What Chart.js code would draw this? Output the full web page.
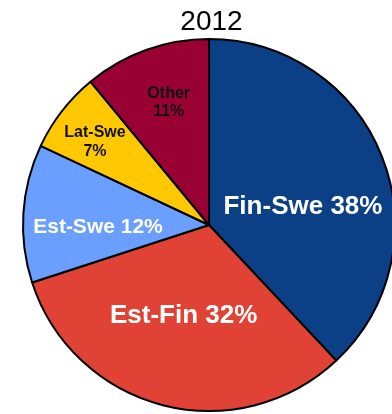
<!DOCTYPE html>
<html>
<head>
<meta charset="utf-8">
<title>2012</title>
<script src="https://cdn.jsdelivr.net/npm/chart.js@4"></script>
<style>
  html, body { margin: 0; padding: 0; background: #ffffff; overflow: hidden; }
  #wrap { width: 392px; height: 414px; overflow: hidden; position: relative; }
  canvas { display: block; }
</style>
</head>
<body>
<div id="wrap"><canvas id="chart" width="420" height="414"></canvas></div>
<script>
// Route shares for 2012 (percent), clockwise from 12 o'clock
const chartTitle = '2012';
const routes = ['Fin-Swe', 'Est-Fin', 'Est-Swe', 'Lat-Swe', 'Other'];
const shares = [38, 32, 12, 7, 11];

// Slice and label styling
const sliceColors = ['#0B3F86', '#E04236', '#6A9EFF', '#FFC800', '#990033'];
const labelStyle = [
  { color: '#ffffff', size: 26, twoLine: false, rad: 0.514, pos: 0.58 },
  { color: '#ffffff', size: 26, twoLine: false, rad: 0.508, pos: 0.51 },
  { color: '#ffffff', size: 21, twoLine: false, rad: 0.597, pos: 0.39 },
  { color: '#111111', size: 16, twoLine: true,  rad: 0.758, pos: 0.43 },
  { color: '#111111', size: 16, twoLine: true,  rad: 0.693, pos: 0.54 }
];
const fontFamily = '"Liberation Sans", Arial, Helvetica, sans-serif';

// Draws the route name and share inside each slice
const sliceLabels = {
  id: 'sliceLabels',
  afterDatasetsDraw(chart) {
    const ctx = chart.ctx;
    const meta = chart.getDatasetMeta(0);
    const values = chart.data.datasets[0].data;
    ctx.save();
    ctx.textAlign = 'center';
    ctx.textBaseline = 'middle';
    meta.data.forEach((arc, i) => {
      const st = labelStyle[i];
      const { x, y, startAngle, endAngle, outerRadius } = arc.getProps(
        ['x', 'y', 'startAngle', 'endAngle', 'outerRadius'], true);
      const a = startAngle + (endAngle - startAngle) * st.pos;
      const r = outerRadius * st.rad;
      const cx = x + Math.cos(a) * r;
      const cy = y + Math.sin(a) * r;
      const name = chart.data.labels[i];
      const pct = values[i] + '%';
      ctx.fillStyle = st.color;
      ctx.font = 'bold ' + st.size + 'px ' + fontFamily;
      if (st.twoLine) {
        const lh = st.size * 1.15;
        ctx.fillText(name, cx, cy - lh / 2);
        ctx.fillText(pct, cx, cy + lh / 2);
      } else {
        ctx.fillText(name + ' ' + pct, cx, cy);
      }
    });
    ctx.restore();
  }
};

// Chart heading above the pie
const heading = {
  id: 'heading',
  afterDraw(chart) {
    const ctx = chart.ctx;
    const meta = chart.getDatasetMeta(0);
    const arc = meta.data[0];
    ctx.save();
    ctx.fillStyle = '#000000';
    ctx.font = '28px ' + fontFamily;
    ctx.textAlign = 'center';
    ctx.textBaseline = 'alphabetic';
    ctx.fillText(chartTitle, arc.x + 2.5, 30);
    ctx.restore();
  }
};

new Chart(document.getElementById('chart'), {
  type: 'pie',
  data: {
    labels: routes,
    datasets: [{
      data: shares,
      backgroundColor: sliceColors,
      borderColor: '#000000',
      borderWidth: 2,
      borderAlign: 'center',
      hoverOffset: 0
    }]
  },
  options: {
    responsive: false,
    animation: false,
    events: [],
    layout: { padding: { left: 22, top: 38, right: 24, bottom: 2 } },
    plugins: {
      legend: { display: false },
      title: { display: false },
      tooltip: { enabled: false }
    }
  },
  plugins: [sliceLabels, heading]
});
</script>
</body>
</html>
